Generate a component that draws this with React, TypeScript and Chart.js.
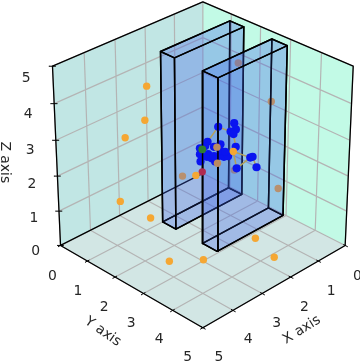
import React, { useEffect, useRef } from "react";
import { Chart, registerables } from "chart.js";

Chart.register(...registerables);

type P3 = [number, number, number];

const tickValues = [0, 1, 2, 3, 4, 5];
const blueNodes: P3[] = [
  [2.24, 2.76, 3.37], [1.97, 3.03, 3.47], [1.94, 3.06, 3.3], [2.03, 2.97, 3.24], [1.98, 3.02, 3.17],
  [1.94, 3.06, 2.82], [2.42, 2.58, 2.96], [2.55, 2.45, 2.78], [2.46, 2.54, 2.84], [2.2, 2.8, 2.89],
  [2.31, 2.69, 2.82], [2.54, 2.46, 2.41], [2.43, 2.57, 2.54], [2.35, 2.65, 2.5], [2.25, 2.75, 2.54],
  [2.18, 2.82, 2.59], [2.14, 2.86, 2.54], [2.07, 2.93, 2.56], [2.2, 2.8, 2.71], [1.69, 3.31, 2.52],
  [1.65, 3.35, 2.54], [1.58, 3.42, 2.25], [1.92, 3.08, 2.22], [2.29, 2.71, 2.41],
  [2.41, 2.59, 2.62], [2.31, 2.69, 2.56], [2.55, 2.45, 2.61], [2.12, 2.88, 2.68],
];
const greenNodes: P3[] = [[2.51, 2.49, 2.75]];
const redNodes: P3[] = [[2.51, 2.49, 2.12]];
const orangeFront: P3[] = [
  [1.98, 3.02, 2.69], [2.62, 2.38, 2.02], [3.44, 1.56, 4.47], [3.48, 1.52, 3.55], [3.82, 1.18, 3.07],
  [3.93, 1.07, 1.28], [3.41, 1.59, 0.8], [3.83, 2.68, 0.23], [3.2, 3.22, 0.23], [1.6, 3.44, 0.23], [1.9, 4.36, 0.23],
];
const orangeBehind: P3[] = [
  [2.85, 2.15, 2.0], [1.96, 3.04, 2.17], [0.38, 1.62, 4.0], [1.2, 3.8, 1.65], [1.35, 3.65, 4.06],
];
const orangeTinted: P3[] = [[2.26, 2.74, 2.81], [2.25, 2.75, 2.36]];
const nodeLinks = [[0, 3], [0, 6], [4, 5], [5, 28], [28, 19], [28, 22], [22, 19], [21, 20], [16, 28]];
const boxA = { x: [0.05, 2.44], y: [1, 1.48], z: [0, 4.83] };
const boxB = { x: [0.05, 2.44], y: [2.43, 2.94], z: [0, 4.83] };
const xLabels = tickValues.map(String);

const EL = (30 * Math.PI) / 180;
const AZ = (45 * Math.PI) / 180;
const SIDE = 1.1;
const DIST = 10;
const SCALE = 1880;
const CX = 202.85;
const CY = 158.3;

function project(x: number, y: number, z: number) {
  const px = (x / 5 - 0.5) * SIDE;
  const py = (y / 5 - 0.5) * SIDE;
  const pz = (z / 5 - 0.5) * SIDE;
  const n = [Math.cos(EL) * Math.cos(AZ), Math.cos(EL) * Math.sin(AZ), Math.sin(EL)];
  const r = [-Math.sin(AZ), Math.cos(AZ), 0];
  const up = [-Math.sin(EL) * Math.cos(AZ), -Math.sin(EL) * Math.sin(AZ), Math.cos(EL)];
  const u = r[0] * px + r[1] * py;
  const v = up[0] * px + up[1] * py + up[2] * pz;
  const w = n[0] * px + n[1] * py + n[2] * pz;
  const d = DIST - w;
  return { x: CX + (SCALE * u) / d, y: CY - (SCALE * v) / d };
}
const pr = (p: P3) => project(p[0], p[1], p[2]);
const GAP = { x: NaN, y: NaN };

function segs(list: P3[][]) {
  const out: { x: number; y: number }[] = [];
  list.forEach((s) => {
    s.forEach((p) => out.push(pr(p)));
    out.push(GAP);
  });
  return out;
}
const lineDs = (data: any[], color: string, width: number) => ({
  data, showLine: true, borderColor: color, borderWidth: width, pointRadius: 0, fill: false, tension: 0,
  borderCapStyle: "round", borderJoinStyle: "round",
});
const polyDs = (pts: P3[], fillColor: string, stroke: string, width: number) => ({
  data: [...pts, pts[0]].map(pr), showLine: true, fill: "shape", backgroundColor: fillColor,
  borderColor: stroke, borderWidth: width, pointRadius: 0, tension: 0, borderJoinStyle: "round",
});
const dotDs = (pts: P3[], color: string, radius: number) => ({
  data: pts.map(pr), showLine: false, pointRadius: radius, pointBackgroundColor: color, pointBorderWidth: 0,
});

const BOX_FILL = "rgba(60,100,235,0.18)";
function boxFaces(b: typeof boxA) {
  const [x0, x1] = b.x, [y0, y1] = b.y, [z0, z1] = b.z;
  const faces: P3[][] = [
    [[x0, y0, z0], [x1, y0, z0], [x1, y1, z0], [x0, y1, z0]],
    [[x0, y0, z0], [x0, y1, z0], [x0, y1, z1], [x0, y0, z1]],
    [[x0, y0, z0], [x1, y0, z0], [x1, y0, z1], [x0, y0, z1]],
    [[x1, y0, z0], [x1, y1, z0], [x1, y1, z1], [x1, y0, z1]],
    [[x0, y1, z0], [x1, y1, z0], [x1, y1, z1], [x0, y1, z1]],
    [[x0, y0, z1], [x1, y0, z1], [x1, y1, z1], [x0, y1, z1]],
  ];
  return faces.map((f) => polyDs(f, BOX_FILL, "#000000", 1.5));
}

function buildDatasets() {
  const gridSegs: P3[][] = [];
  tickValues.forEach((k) => {
    gridSegs.push([[k, 0, 0], [k, 0, 5]], [[5, 0, k], [0, 0, k]]);
    gridSegs.push([[0, k, 0], [0, k, 5]], [[0, 0, k], [0, 5, k]]);
    gridSegs.push([[k, 0, 0], [k, 5, 0]], [[0, k, 0], [5, k, 0]]);
  });
  const tickSegs: P3[][] = [];
  tickValues.forEach((k) => {
    tickSegs.push([[5.08, k, 0], [4.95, k, 0]], [[k, 5.08, 0], [k, 4.95, 0]], [[5.06, -0.06, k], [4.95, 0.05, k]]);
  });
  const frame: P3[][] = [
    [[5, 0, 5], [5, 0, 0], [5, 5, 0], [0, 5, 0], [0, 5, 5], [0, 0, 5], [5, 0, 5]],
    [[5, 0, 0], [0, 0, 0]],
  ];
  const allNodes = [...blueNodes, ...orangeFront];
  const b = boxB;
  const nearEdges: P3[][] = [
    [[b.x[1], b.y[0], b.z[0]], [b.x[1], b.y[0], b.z[1]]],
    [[b.x[1], b.y[1], b.z[0]], [b.x[1], b.y[1], b.z[1]]],
  ];
  const list: any[] = [
    polyDs([[0, 0, 0], [5, 0, 0], [5, 0, 5], [0, 0, 5]], "#c1e6e4", "transparent", 0),
    polyDs([[0, 0, 0], [0, 5, 0], [0, 5, 5], [0, 0, 5]], "#c2fae6", "transparent", 0),
    polyDs([[0, 0, 0], [5, 0, 0], [5, 5, 0], [0, 5, 0]], "#d2e6e4", "transparent", 0),
    lineDs(segs(gridSegs), "#b4b4b4", 1.2),
    lineDs(segs(frame), "#000000", 1.3),
    lineDs(segs(tickSegs), "#000000", 1),
    dotDs(orangeBehind, "#f5a733", 3.7),
    ...boxFaces(boxA),
    ...boxFaces(boxB),
    lineDs(segs(nodeLinks.map(([i, j]) => [allNodes[i], allNodes[j]])), "#b5a05a", 1.5),
    dotDs(blueNodes, "#0a14f0", 4.1),
    lineDs(segs(nearEdges), "#000000", 1.5),
    dotDs(orangeTinted, "#b98a62", 3.7),
    dotDs(greenNodes, "#2f7d2f", 3.9),
    dotDs(redNodes, "#b02a50", 3.7),
    dotDs(orangeFront, "#f5a733", 3.7),
  ];
  return list.map((d, i) => ({ ...d, order: list.length - i, clip: false }));
}

const textPlugin = {
  id: "axisText",
  afterDraw(chart: any) {
    const ctx = chart.ctx;
    const sx = chart.scales.x, sy = chart.scales.y;
    const put = (t: string, px: number, py: number, size: number, rot = 0) => {
      ctx.save();
      ctx.translate(sx.getPixelForValue(px), sy.getPixelForValue(py));
      ctx.rotate((rot * Math.PI) / 180);
      ctx.font = `${size}px "DejaVu Sans"`;
      ctx.fillStyle = "#262626";
      ctx.textAlign = "center";
      ctx.textBaseline = "middle";
      ctx.fillText(t, 0, 0);
      ctx.restore();
    };
    tickValues.forEach((k, i) => {
      const a = project(5.4, k, -0.6);
      put(xLabels[i], a.x + 3 - 1.2 * k, a.y + 4 - 0.6 * k, 13.9);
      const b = project(k, 5.4, -0.6);
      put(xLabels[i], b.x + 1 + 0.6 * k, b.y + 4 - 0.6 * k, 13.9);
      const c = project(5.42, -0.42, k);
      put(xLabels[i], c.x - 1, c.y + 5.5 + k * 1.4, 13.9);
    });
    const xl = project(3.0, 6.05, -0.65);
    put("X axis", xl.x + 8, xl.y - 4, 13.9, -32);
    const yl = project(6.05, 3.0, -0.65);
    put("Y axis", yl.x - 9, yl.y - 2, 13.9, 35);
    const zl = project(5.9, -0.9, 2.5);
    put("Z axis", zl.x + 1, zl.y + 4, 13.9, 90);
  },
};

export default function App() {
  const ref = useRef<HTMLCanvasElement>(null);
  useEffect(() => {
    document.body.style.margin = "0";
    const chart = new Chart(ref.current!, {
      type: "scatter",
      data: { datasets: buildDatasets() as any },
      options: {
        animation: false,
        responsive: false,
        layout: { padding: 0, autoPadding: false },
        plugins: { legend: { display: false }, tooltip: { enabled: false } },
        scales: {
          x: { type: "linear", min: 0, max: 360, display: false },
          y: { type: "linear", min: 0, max: 362, reverse: true, display: false },
        },
      },
      plugins: [textPlugin],
    } as any);
    return () => chart.destroy();
  }, []);
  return <canvas ref={ref} width={360} height={362} style={{ display: "block" }} />;
}
